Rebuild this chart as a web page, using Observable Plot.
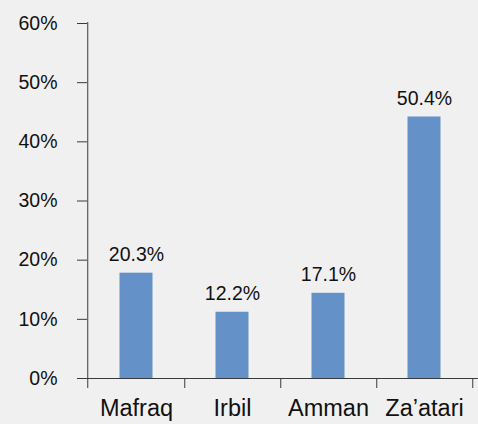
<!DOCTYPE html>
<html>
<head>
<meta charset="utf-8">
<script src="https://cdn.jsdelivr.net/npm/d3@7"></script>
<script src="https://cdn.jsdelivr.net/npm/@observablehq/plot@0.6"></script>
<style>
  html, body { margin: 0; padding: 0; background: #f0f0f0; }
</style>
</head>
<body>
<div id="chart"></div>
<script>
// Categories (x axis)
const categories = ["Mafraq", "Irbil", "Amman", "Za\u2019atari"];
// Bar heights as drawn in the picture (percent)
const barHeights = [17.8, 11.2, 14.4, 44.2];
// Value labels printed above the bars
const valueLabels = ["20.3%", "12.2%", "17.1%", "50.4%"];
// Y tick values
const yTicks = [0, 10, 20, 30, 40, 50, 60];

const data = categories.map((c, i) => ({cat: c, h: barHeights[i], label: valueLabels[i]}));

const font = "'Liberation Sans', Arial, Helvetica, sans-serif";
const axisColor = "#3a3a3a";
const bw = (478 - 87 - 5) / categories.length / 2;

const chart = Plot.plot({
  width: 478,
  height: 424,
  marginLeft: 87,
  marginRight: 5,
  marginTop: 23,
  marginBottom: 46,
  style: {background: "#f0f0f0", fontFamily: font, fontSize: "18px", color: "#111"},
  x: {domain: categories, padding: 0},
  y: {domain: [0, 60]},
  marks: [
    Plot.barY(data, {x: "cat", y: "h", fill: "#6391c8", insetLeft: 31.5, insetRight: 31.5}),
    Plot.text(data, {x: "cat", y: "h", text: "label", dy: -12, lineAnchor: "bottom", fontSize: 19.5, fill: "#111"}),
    Plot.axisY({ticks: yTicks, tickFormat: d => d + "%", tickSize: 10, tickPadding: 20, fontSize: 19.5, stroke: axisColor, fill: "#111", label: null}),
    Plot.axisX({tickSize: 0, tickPadding: 21, fontSize: 23.5, fill: "#111", label: null}),
    // vertical axis line at left edge of first band
    Plot.ruleX([categories[0]], {x: d => d, dx: -bw - 0.5, insetBottom: -10, insetTop: -1, stroke: axisColor}),
    // tick marks between categories (right edge of each band)
    Plot.ruleX(categories, {x: d => d, y1: 0, y2: 0, dx: bw, insetBottom: -10, stroke: axisColor}),
    // baseline
    Plot.ruleY([0], {insetLeft: -9, insetRight: -5, stroke: axisColor})
  ]
});
document.getElementById("chart").appendChild(chart);
</script>
</body>
</html>
